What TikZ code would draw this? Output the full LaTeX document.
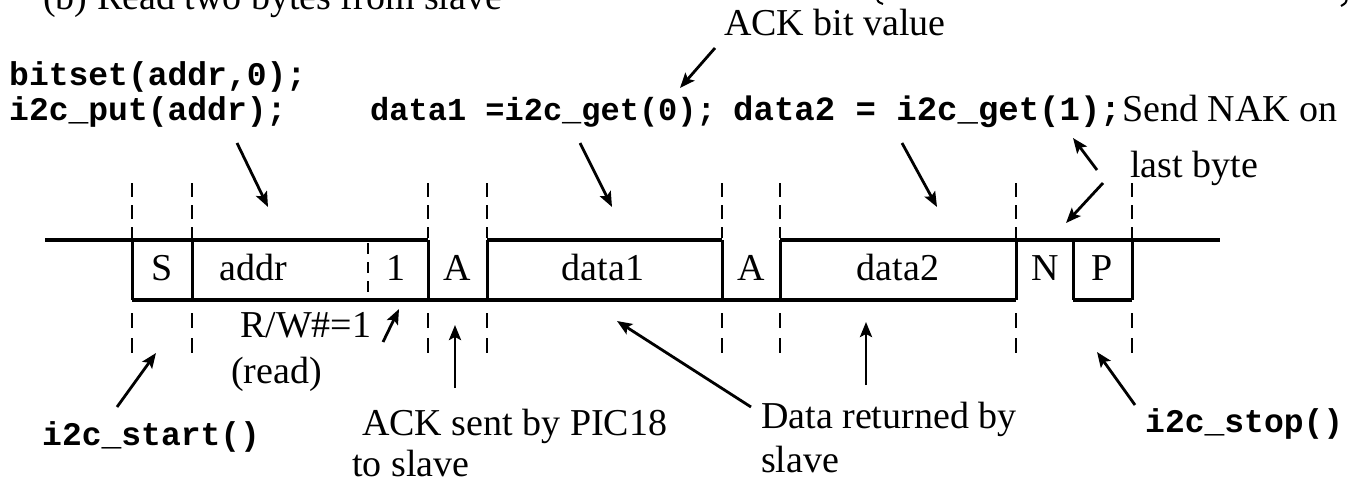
\documentclass[tikz,border=0pt]{standalone}
\usepackage{fontspec}
\setmainfont{Liberation Serif}
\newfontfamily\codefont{Liberation Mono}
\usetikzlibrary{arrows.meta}
\begin{document}
\begin{tikzpicture}[x=1pt,y=-1pt,
  wire/.style={line width=3.6pt},
  edgeline/.style={line width=3pt},
  guide/.style={line width=2.6pt, dash pattern=on 14pt off 8pt},
  guidelow/.style={line width=2.6pt, dash pattern=on 15pt off 10pt},
  guidein/.style={line width=2.6pt, dash pattern=on 11pt off 8pt},
  ptr/.style={line width=2.8pt, -{Stealth[length=15pt,width=12pt,inset=3pt]}},
  txt/.style={font=\fontsize{38}{40}\selectfont, inner sep=0pt, anchor=base west},
  code/.style={font=\codefont\bfseries\fontsize{33}{35}\selectfont, inner sep=0pt, anchor=base west},
  field/.style={font=\fontsize{38}{40}\selectfont, inner sep=0pt, anchor=base}]
\useasboundingbox (0,0) rectangle (1357,485);
\clip (0,0) rectangle (1357,485);

% caption line, cut at the top edge
\node[txt] (title) at (43,9) {(b) Read two bytes from slave};
\draw[line width=2pt] (877,-2) .. controls (878,2) .. (883,4);
\draw[line width=2pt] (1347,-2) .. controls (1346,3) .. (1341,6);

% code and notes above the bus
\node[txt]  (ackval) at (724,35) {ACK bit value};
\node[code] (bitset) at (9,85) {bitset(addr,0);};
\node[code] (put)    at (9,120) {i2c\_put(addr);};
\node[code, font=\codefont\bfseries\fontsize{32}{34}\selectfont] (get0) at (370,120) {data1 =i2c\_get(0);};
\node[code, font=\codefont\bfseries\fontsize{34}{36}\selectfont] (get1) at (733,120) {data2 = i2c\_get(1);};
\node[txt]  (nak1)   at (1122,121) {Send NAK on};
\node[txt]  (nak2)   at (1130,177) {last byte};

% bus waveform
\draw[wire] (45,240) -- (428,240);
\draw[wire] (487,240) -- (722,240);
\draw[wire] (780,240) -- (1220,240);
\draw[wire] (132,300) -- (1016,300);
\draw[wire] (1073,300) -- (1132,300);
\foreach \x in {132,192,428,487,722,780,1016,1073,1132}
  \draw[edgeline] (\x,240) -- (\x,300);
\draw[guidein] (368,243) -- (368,297);

% frame boundaries
\foreach \x in {132,192,428,487,722,780,1016,1132} {
  \draw[guide] (\x,183) -- (\x,238);
  \draw[guidelow] (\x,313) -- (\x,353);
}

% field names
\node[field] (fS)  at (162,280) {S};
\node[field] (fad) at (253,280) {addr};
\node[field] (frw) at (396,280) {1};
\node[field] (fA1) at (457,280) {A};
\node[field] (fd1) at (603,280) {data1};
\node[field] (fA2) at (751,280) {A};
\node[field] (fd2) at (898,280) {data2};
\node[field] (fN)  at (1045,280) {N};
\node[field] (fP)  at (1102,280) {P};

% notes below the bus
\node[txt]  (rw)    at (240,337) {R/W\#=1};
\node[txt]  (rd)    at (231,383) {(read)};
\node[txt]  (acks1) at (362,435) {ACK sent by PIC18};
\node[txt]  (acks2) at (352,476) {to slave};
\node[code] (start) at (42,445) {i2c\_start()};
\node[txt]  (ret1)  at (761,428) {Data returned by};
\node[txt]  (ret2)  at (761,472) {slave};
\node[code] (stop)  at (1145,432) {i2c\_stop()};

% pointer ends
\coordinate (a1t) at (715,48);   \coordinate (a1h) at (680,88);
\coordinate (a2t) at (237,143);  \coordinate (a2h) at (268,207);
\coordinate (a3t) at (580,143);  \coordinate (a3h) at (612,207);
\coordinate (a4t) at (902,143);  \coordinate (a4h) at (937,207);
\coordinate (a5t) at (1097,170); \coordinate (a5h) at (1073,138);
\coordinate (a6t) at (1103,183); \coordinate (a6h) at (1066,223);
\coordinate (a7t) at (383,342);  \coordinate (a7h) at (399,309);
\coordinate (a8t) at (117,407);  \coordinate (a8h) at (156,353);
\coordinate (a9t) at (455,388);  \coordinate (a9h) at (455,325);
\coordinate (a10t) at (751,407); \coordinate (a10h) at (617,321);
\coordinate (a11t) at (866,385); \coordinate (a11h) at (866,322);
\coordinate (a12t) at (1135,405); \coordinate (a12h) at (1097,352);

\foreach \i in {1,...,12}
  \draw[ptr] (a\i t) -- (a\i h);
\end{tikzpicture}
\end{document}
